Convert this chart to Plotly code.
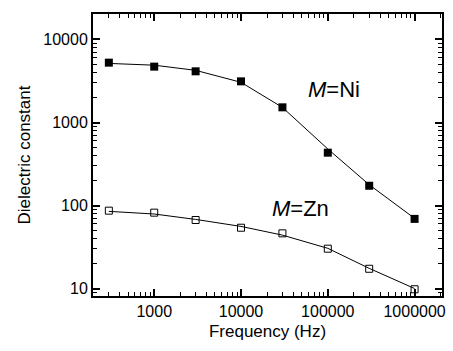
import plotly.graph_objects as go
import numpy as np

freq = [300, 1000, 3000, 10000, 30000, 100000, 300000, 1000000]
eps_ni = [5260, 4710, 4135, 3130, 1523, 433, 173, 69]
eps_zn = [86.7, 82, 66.9, 54, 46.2, 30.2, 17.3, 9.8]

fit_freq = [300, 1000, 3000, 10000, 30000, 100000, 300000, 1000000]
fit_ni = [5150, 4900, 4250, 3050, 1520, 480, 178, 70]
fit_zn = [85, 79, 68, 56, 44, 30.5, 17.5, 10]

font = "Liberation Sans, Arial, sans-serif"
xr = [np.log10(197), np.log10(2.07e6)]
yr = [0.91, 4.307]

fig = go.Figure()
fig.add_trace(go.Scatter(x=fit_freq, y=fit_ni, mode="lines", line=dict(color="black", width=1), showlegend=False))
fig.add_trace(go.Scatter(x=fit_freq, y=fit_zn, mode="lines", line=dict(color="black", width=1), showlegend=False))
fig.add_trace(go.Scatter(x=freq, y=eps_ni, mode="markers", marker=dict(symbol="square", size=8, color="black"), showlegend=False))
fig.add_trace(go.Scatter(x=freq, y=eps_zn, mode="markers", marker=dict(symbol="square-open", size=7, color="black", line=dict(width=1)), showlegend=False))

fig.add_annotation(x=np.log10(118000), y=np.log10(2470), text="<i>M</i>=Ni", showarrow=False, font=dict(family=font, size=22, color="black"))
fig.add_annotation(x=np.log10(48500), y=np.log10(90.8), text="<i>M</i>=Zn", showarrow=False, font=dict(family=font, size=22, color="black"))

axis_common = dict(
    type="log", showgrid=False, zeroline=False, showline=True, linecolor="black", linewidth=2,
    mirror="allticks", ticks="inside", ticklen=7, tickwidth=1.5, tickcolor="black",
    dtick=1, tickformat="d",
    tickfont=dict(family=font, size=16, color="black"),
    minor=dict(dtick="D1", ticks="inside", ticklen=4, tickwidth=1, tickcolor="black", showgrid=False),
)

fig.update_layout(
    xaxis=dict(**axis_common, range=xr,
               title=dict(text="Frequency (Hz)", font=dict(family=font, size=17, color="black"), standoff=6)),
    yaxis=dict(**axis_common, range=yr,
               title=dict(text="Dielectric constant", font=dict(family=font, size=17, color="black"), standoff=8)),
    width=453, height=351, margin=dict(l=93, r=7, t=14, b=55),
    paper_bgcolor="white", plot_bgcolor="white",
)
fig.write_html("out.html")
